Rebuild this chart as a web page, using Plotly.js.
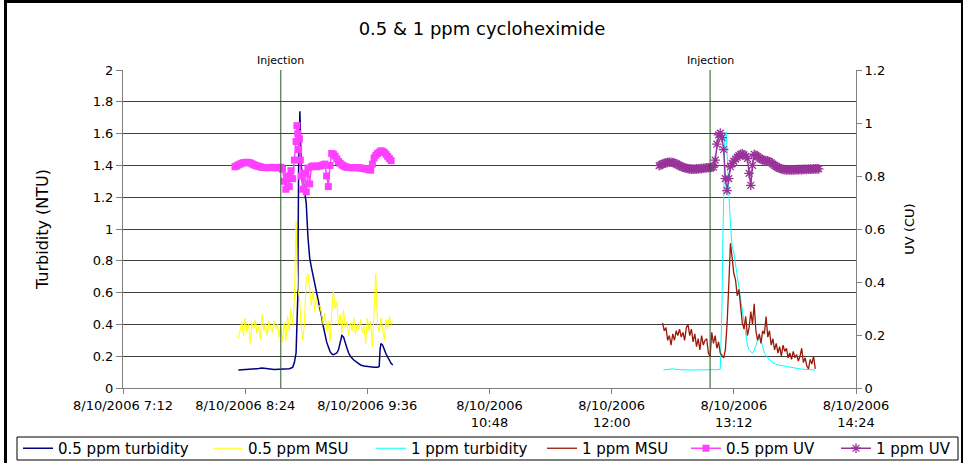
<!DOCTYPE html>
<html>
<head>
<meta charset="utf-8">
<script src="https://cdn.plot.ly/plotly-3.0.1.min.js"></script>
<style>
  html, body { margin: 0; padding: 0; background: #fff; }
  #wrap { position: relative; width: 964px; height: 463px; overflow: hidden; }
  #chart { width: 964px; height: 463px; }
  #frame { position: absolute; left: 4px; top: 0px; width: 954px; height: 470px;
           border-left: 3px solid #000; border-top: 3px solid #000; border-right: 2px solid #000;
           pointer-events: none; }
</style>
</head>
<body>
<div id="wrap"><div id="chart"></div><div id="frame"></div></div>
<script>
// ---------- data ----------
const day = '2006-08-10 ';
const chartTitle = '0.5 & 1 ppm cycloheximide';
const seriesNames = ['0.5 ppm turbidity', '0.5 ppm MSU', '1 ppm turbidity', '1 ppm MSU', '0.5 ppm UV', '1 ppm UV'];
const tickTimes = ['07:12', '08:24', '09:36', '10:48', '12:00', '13:12', '14:24'];
const tickLabels = ['8/10/2006 7:12', '8/10/2006 8:24', '8/10/2006 9:36', '8/10/2006<br>10:48', '8/10/2006<br>12:00', '8/10/2006<br>13:12', '8/10/2006<br>14:24'];
const injectionTimes = ['08:45', '12:58'];
const injectionLabel = 'Injection';

// 0.5 ppm turbidity (NTU)
const turb05Time = ['08:20','08:23','08:26','08:29','08:32','08:34','08:36','08:38','08:41','08:44','08:47','08:50','08:52','08:53','08:54','08:55','08:55:30','08:56:15','08:57','08:58','08:59','09:00','09:01','09:02','09:03','09:04','09:05','09:06','09:07','09:08','09:09','09:10','09:11','09:12','09:13','09:14','09:15','09:16','09:17','09:18','09:19','09:20','09:21','09:22','09:23','09:24','09:25','09:26','09:28','09:30','09:32','09:34','09:36','09:38','09:40','09:42','09:43','09:43:30','09:44','09:45','09:46','09:47','09:48','09:49','09:50','09:51'];
const turb05 = [0.113,0.115,0.114,0.117,0.122,0.126,0.123,0.119,0.117,0.118,0.119,0.121,0.13,0.16,0.22,0.57,1.38,1.74,1.40,1.32,1.24,1.16,0.95,0.82,0.76,0.71,0.66,0.62,0.56,0.51,0.45,0.39,0.33,0.29,0.26,0.23,0.215,0.21,0.215,0.22,0.24,0.29,0.33,0.32,0.28,0.25,0.22,0.20,0.176,0.158,0.145,0.138,0.134,0.131,0.13,0.13,0.135,0.24,0.28,0.27,0.24,0.215,0.195,0.17,0.155,0.145];

// 0.5 ppm MSU (NTU), one reading per minute from 08:20 to 09:51
const msu05Start = '08:20';
const msu05 = [0.32,0.36,0.42,0.33,0.44,0.35,0.40,0.28,0.41,0.37,
               0.43,0.34,0.39,0.31,0.46,0.36,0.41,0.33,0.42,0.38,
               0.35,0.42,0.37,0.40,0.32,0.38,0.29,0.41,0.30,0.45,
               0.36,0.50,0.40,0.55,1.05,0.62,0.57,0.38,0.30,0.42,
               0.70,0.72,0.62,0.52,0.61,0.48,0.57,0.50,0.52,0.45,
               0.40,0.47,0.36,0.42,0.29,0.48,0.61,0.50,0.54,0.40,
               0.46,0.35,0.49,0.38,0.42,0.33,0.41,0.36,0.44,0.34,
               0.40,0.37,0.43,0.35,0.39,0.28,0.44,0.36,0.42,0.26,
               0.45,0.72,0.40,0.35,0.44,0.38,0.30,0.43,0.37,0.45,
               0.40,0.42];

// 1 ppm turbidity (NTU)
const turb1Time = ['12:30:30','12:33','12:36','12:38','12:41','12:44','12:47','12:50','12:53','12:56','12:59','13:02','13:04','13:04:30','13:05','13:05:30','13:06','13:06:45','13:07:30','13:08','13:09','13:10','13:11','13:12','13:13','13:14','13:15','13:16','13:17','13:18','13:19','13:20','13:21','13:22','13:23','13:24','13:25','13:26','13:27','13:28','13:29','13:30','13:32','13:35','13:38','13:41','13:44','13:48','13:52','13:56','14:00'];
const turb1 = [0.113,0.115,0.121,0.116,0.114,0.113,0.113,0.114,0.114,0.113,0.114,0.115,0.118,0.30,0.51,0.91,1.24,1.60,1.61,1.45,1.24,1.03,0.89,0.85,0.78,0.70,0.63,0.56,0.49,0.40,0.33,0.27,0.24,0.225,0.218,0.235,0.27,0.30,0.32,0.30,0.26,0.22,0.19,0.158,0.145,0.138,0.133,0.126,0.119,0.116,0.113];

// 1 ppm MSU (NTU), one reading per minute from 12:30 to 14:00
const msu1Start = '12:30';
const msu1 = [0.41,0.36,0.38,0.30,0.33,0.27,0.34,0.30,0.36,0.33,
              0.37,0.32,0.35,0.30,0.38,0.40,0.33,0.37,0.29,0.34,
              0.26,0.31,0.24,0.33,0.27,0.30,0.31,0.22,0.20,0.35,
              0.28,0.33,0.25,0.29,0.22,0.20,0.19,0.24,0.40,0.64,
              0.91,0.82,0.72,0.68,0.58,0.62,0.53,0.41,0.37,0.45,
              0.33,0.38,0.48,0.40,0.53,0.36,0.30,0.34,0.28,0.36,
              0.34,0.45,0.32,0.36,0.27,0.31,0.24,0.28,0.22,0.26,
              0.20,0.27,0.23,0.25,0.19,0.22,0.18,0.23,0.19,0.21,
              0.17,0.20,0.25,0.16,0.19,0.14,0.12,0.18,0.15,0.20,
              0.12];

// 0.5 ppm UV (CU)
const uv05Time = ['08:18','08:19','08:20','08:21','08:22','08:23','08:24','08:25','08:26','08:27','08:28','08:29','08:30','08:31','08:32','08:33','08:34','08:35','08:36','08:37','08:38','08:39','08:40','08:41','08:42','08:43','08:44','08:45','08:46','08:47','08:48','08:49','08:50','08:51','08:52','08:53','08:54','08:54:30','08:55','08:55:30','08:56','08:56:30','08:57','08:58','08:59','09:00','09:01','09:02','09:03','09:04','09:05','09:06','09:07','09:08','09:09','09:10','09:11','09:12','09:13','09:14','09:15','09:16','09:17','09:18','09:19','09:20','09:21','09:22','09:23','09:24','09:25','09:26','09:27','09:28','09:29','09:30','09:31','09:32','09:33','09:34','09:35','09:36','09:37','09:38','09:39','09:40','09:41','09:42','09:43','09:44','09:45','09:46','09:47','09:48','09:49','09:50'];
const uv05 = [0.835,0.838,0.842,0.845,0.848,0.850,0.851,0.852,0.851,0.849,0.846,0.843,0.840,0.838,0.836,0.834,0.833,0.832,0.832,0.831,0.832,0.832,0.833,0.832,0.831,0.831,0.832,0.833,0.826,0.78,0.75,0.80,0.76,0.82,0.79,0.86,0.93,0.99,0.96,0.90,0.94,0.86,0.80,0.75,0.81,0.74,0.83,0.77,0.835,0.838,0.836,0.835,0.837,0.838,0.840,0.842,0.845,0.80,0.76,0.84,0.885,0.882,0.875,0.865,0.855,0.848,0.842,0.838,0.835,0.833,0.832,0.832,0.831,0.831,0.832,0.832,0.831,0.830,0.829,0.828,0.827,0.826,0.824,0.822,0.845,0.868,0.878,0.885,0.890,0.895,0.893,0.889,0.882,0.874,0.866,0.858];

// 1 ppm UV (CU), one reading per minute from 12:28 to 14:02
const uv1Start = '12:28';
const uv1 = [0.839,0.842,0.845,0.848,0.850,0.851,0.852,0.852,0.851,0.849,
             0.846,0.842,0.839,0.836,0.833,0.831,0.829,0.828,0.827,0.826,
             0.826,0.826,0.827,0.827,0.828,0.828,0.829,0.830,0.831,0.831,
             0.832,0.833,0.834,0.86,0.92,0.955,0.962,0.945,0.90,0.79,
             0.745,0.79,0.835,0.848,0.856,0.864,0.871,0.877,0.882,0.884,
             0.880,0.874,0.866,0.81,0.765,0.84,0.882,0.878,0.873,0.868,
             0.864,0.861,0.858,0.858,0.857,0.854,0.850,0.845,0.840,0.836,
             0.832,0.829,0.827,0.825,0.824,0.823,0.823,0.823,0.823,0.823,
             0.823,0.824,0.824,0.824,0.824,0.825,0.825,0.825,0.826,0.826,
             0.826,0.827,0.827,0.827,0.827];

// ---------- build ----------
function stamp(t) { return day + t; }
function minuteSeries(start, n) {
  const base = new Date('2006-08-10T' + start + ':00');
  const out = [];
  for (let i = 0; i < n; i++) {
    const d = new Date(base.getTime() + i * 60000);
    const hh = String(d.getHours()).padStart(2, '0');
    const mm = String(d.getMinutes()).padStart(2, '0');
    out.push(day + hh + ':' + mm);
  }
  return out;
}

const FONT = 'DejaVu Sans, Arial, sans-serif';
const W = 964, H = 463;
const M = { l: 123, r: 108, t: 70, b: 75 };
const plotW = W - M.l - M.r, plotH = H - M.t - M.b;
// legend layout (pixels in the figure)
const legendItemX = [18, 208, 371, 542, 686, 836];
const legendBox = { x0: 17, x1: 958, y0: 437, y1: 460 };
const legendIds = ['legend', 'legend2', 'legend3', 'legend4', 'legend5', 'legend6'];

const traces = [
  { name: seriesNames[0], x: turb05Time.map(stamp), y: turb05, type: 'scatter', mode: 'lines',
    line: { color: '#000080', width: 1.5 } },
  { name: seriesNames[1], x: minuteSeries(msu05Start, msu05.length), y: msu05, type: 'scatter', mode: 'lines',
    line: { color: '#FFFF00', width: 1 } },
  { name: seriesNames[2], x: turb1Time.map(stamp), y: turb1, type: 'scatter', mode: 'lines',
    line: { color: '#00FFFF', width: 1 } },
  { name: seriesNames[3], x: minuteSeries(msu1Start, msu1.length), y: msu1, type: 'scatter', mode: 'lines',
    line: { color: '#991A0A', width: 1.3 } },
  { name: seriesNames[4], x: uv05Time.map(stamp), y: uv05, type: 'scatter', mode: 'lines+markers', yaxis: 'y2',
    line: { color: '#FF40FF', width: 1.5 }, marker: { symbol: 'square', size: 7, color: '#FF40FF' } },
  { name: seriesNames[5], x: minuteSeries(uv1Start, uv1.length), y: uv1, type: 'scatter', mode: 'lines+markers', yaxis: 'y2',
    line: { color: '#993399', width: 1.5 },
    marker: { symbol: 'asterisk-open', size: 8, color: '#993399', line: { color: '#993399', width: 1.3 } } }
];
traces.forEach((t, i) => { t.legend = legendIds[i]; });

const shapes = injectionTimes.map(t => ({
  type: 'line', xref: 'x', yref: 'paper', x0: stamp(t), x1: stamp(t), y0: 0, y1: 1,
  line: { color: '#1E5A1E', width: 1 }, layer: 'above'
}));
shapes.push({
  type: 'rect', xref: 'paper', yref: 'paper',
  x0: (legendBox.x0 - M.l) / plotW, x1: (legendBox.x1 - M.l) / plotW,
  y0: (H - M.b - legendBox.y1) / plotH, y1: (H - M.b - legendBox.y0) / plotH,
  line: { color: '#000', width: 1 }, fillcolor: 'rgba(0,0,0,0)', layer: 'above'
});
const annotations = injectionTimes.map(t => ({
  xref: 'x', yref: 'paper', x: stamp(t), y: 1, yanchor: 'bottom', yshift: 1,
  text: injectionLabel, showarrow: false, font: { family: FONT, size: 11, color: '#000' }
}));

const layout = {
  width: W, height: H,
  margin: M,
  paper_bgcolor: '#fff', plot_bgcolor: '#fff',
  font: { family: FONT, color: '#000' },
  title: { text: chartTitle, font: { family: FONT, size: 18, color: '#000' },
           x: 0.5, xanchor: 'center', y: 1 - 29 / H, yanchor: 'middle' },
  showlegend: true,
  xaxis: {
    type: 'date', range: [stamp('07:12'), stamp('14:24')],
    tickmode: 'array', tickvals: tickTimes.map(stamp), ticktext: tickLabels,
    ticks: 'outside', ticklen: 5, tickcolor: '#808080',
    showline: true, linecolor: '#808080', linewidth: 1,
    showgrid: false, zeroline: false,
    tickfont: { family: FONT, size: 13, color: '#000' }
  },
  yaxis: {
    range: [0, 2], tick0: 0, dtick: 0.2,
    ticks: 'outside', ticklen: 6, tickcolor: '#808080',
    showline: true, linecolor: '#808080', linewidth: 1,
    showgrid: true, gridcolor: '#404040', gridwidth: 1, zeroline: false,
    tickfont: { family: FONT, size: 13, color: '#000' },
    title: { text: 'Turbidity (NTU)', font: { family: FONT, size: 16, color: '#000' }, standoff: 40 }
  },
  yaxis2: {
    overlaying: 'y', side: 'right', anchor: 'x',
    range: [0, 1.2], tick0: 0, dtick: 0.2,
    ticks: 'outside', ticklen: 5, tickcolor: '#808080',
    showline: true, linecolor: '#808080', linewidth: 1,
    showgrid: false, zeroline: false,
    tickfont: { family: FONT, size: 13, color: '#000' },
    title: { text: 'UV (CU)', font: { family: FONT, size: 13, color: '#000' }, standoff: 20 }
  },
  shapes: shapes,
  annotations: annotations
};
legendIds.forEach((id, i) => {
  layout[id] = {
    orientation: 'h', xref: 'container', yref: 'container',
    x: legendItemX[i] / W, y: 1 - ((legendBox.y0 + legendBox.y1) / 2) / H,
    xanchor: 'left', yanchor: 'middle',
    bgcolor: 'rgba(0,0,0,0)', borderwidth: 0,
    font: { family: FONT, size: 15, color: '#000' }, itemwidth: 30
  };
});

Plotly.newPlot('chart', traces, layout, { displayModeBar: false, staticPlot: true });
</script>
</body>
</html>
